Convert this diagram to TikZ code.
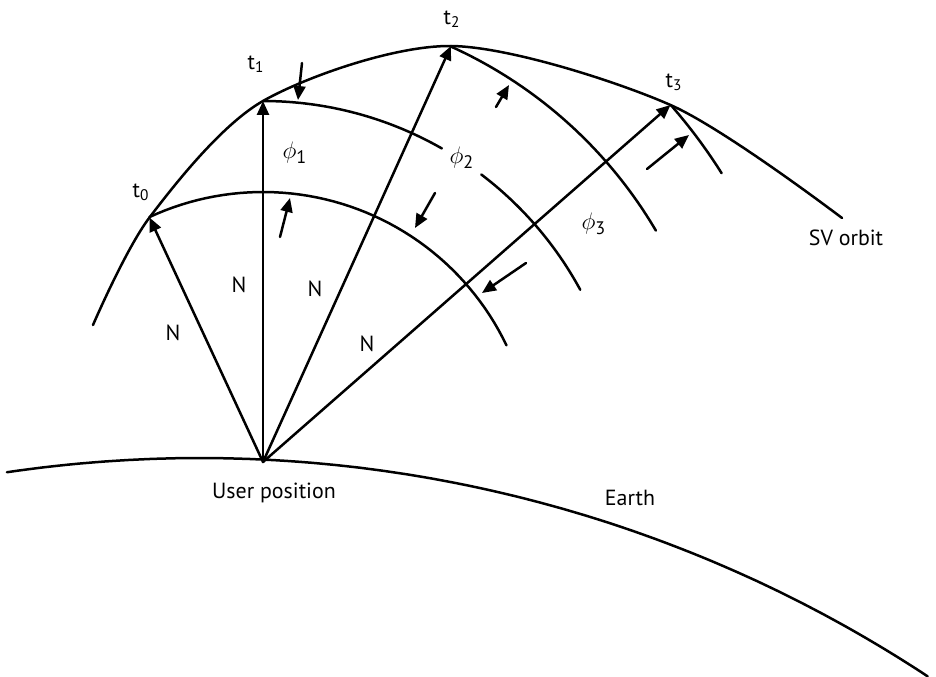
\documentclass[tikz,border=0pt]{standalone}
\usepackage{fontspec}
\setmainfont{PT Sans}
\usetikzlibrary{arrows.meta}

\begin{document}
\begin{tikzpicture}[x=0.5bp,y=-0.5bp,line width=1.25bp,line cap=round,
  vec/.style={-{Triangle[length=7bp,width=6bp]}},
  lbl/.style={font=\fontsize{11}{13}\selectfont,inner sep=0pt},
  philbl/.style={font=\fontsize{13}{15}\selectfont,inner sep=0pt}]
\useasboundingbox (0,0) rectangle (936,677);
% Punkte: Nutzer und Satellit zu t0..t3
\coordinate (U) at (263,462);
\coordinate (t0) at (149.5,217.5);
\coordinate (t1) at (263,101);
\coordinate (t2) at (451,46);
\coordinate (t3) at (670.5,105);
% Erde
\draw plot[domain=-98.4:-56.6,samples=80] ({200+1322*cos(\x)},{1780+1322*sin(\x)});
% Bahn
\draw plot[smooth] coordinates {(93,325) (t0) (t1) (t2) (t3) (842,218)};
% Wellenfronten um U
\foreach \r/\a/\b in {270/-114.9/-25.6, 361/-90/-60.3, 361/-52.8/-28.5,
                      456/-65.7/-30.5, 542/-41.2/-32.2} {
  \draw plot[domain=\a:\b,samples=50] ({263+\r*cos(\x)},{462+\r*sin(\x)});
}
% Laufwege N
\foreach \i in {0,...,3} {
  \draw[vec] (U) -- (t\i);
}
% kleine Pfeile
\foreach \xa/\ya/\xb/\yb in {302/63/298/100, 280/237/290/198, 435/193/415/228,
                             496/107/509/85, 647/169/689/135, 526/263/482/293} {
  \draw[vec] (\xa,\ya) -- (\xb,\yb);
}
% Beschriftung
\node[lbl] (lt0) at (141,192) {t\textsubscript{0}};
\node[lbl] (lt1) at (256,64) {t\textsubscript{1}};
\node[lbl] (lt2) at (452,19) {t\textsubscript{2}};
\node[lbl] (lt3) at (674,82) {t\textsubscript{3}};
\node[philbl] (phi1) at (295,153) {$\phi$\textsubscript{1}};
\node[philbl] (phi2) at (462,158) {$\phi$\textsubscript{2}};
\node[philbl] (phi3) at (594,224) {$\phi$\textsubscript{3}};
\node[lbl] (n0) at (173,333) {N};
\node[lbl] (n1) at (239,285) {N};
\node[lbl] (n2) at (315,289) {N};
\node[lbl] (n3) at (367,344) {N};
\node[lbl] (orbit) at (846,238) {SV orbit};
\node[lbl] (user) at (274,493) {User position};
\node[lbl] (earth) at (630,498) {Earth};
\end{tikzpicture}
\end{document}
